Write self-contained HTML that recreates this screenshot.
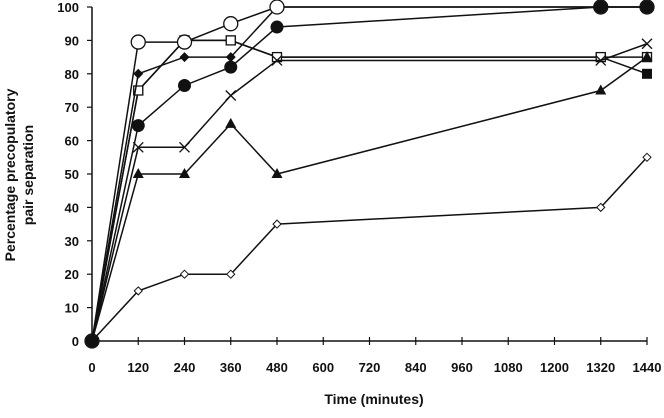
<!DOCTYPE html>
<html><head><meta charset="utf-8"><style>
body{margin:0;background:#fff;}
svg text{font-family:"Liberation Sans",sans-serif;font-weight:bold;fill:#111;}
</style></head><body>
<svg width="664" height="413" viewBox="0 0 664 413" id="chart">
<g id="axes"></g><g id="series"></g>
<text x="374" y="404" font-size="14" text-anchor="middle">Time (minutes)</text>
<text transform="translate(15,175) rotate(-90)" font-size="14" text-anchor="middle"><tspan x="0" dy="0">Percentage precopulatory</tspan><tspan x="0" dy="18">pair  separation</tspan></text>
</svg>
<script>
const times=[0,120,240,360,480,1320,1440];
const xTicks=[0,120,240,360,480,600,720,840,960,1080,1200,1320,1440];
const yTicks=[0,10,20,30,40,50,60,70,80,90,100];
const openCircle=[0,89.5,89.5,95,100,100,100];
const filledCircle=[0,64.5,76.5,82,94,100,100];
const filledSquare=[0,75,90,90,85,85,80];
const filledDiamond=[0,80,85,85,100,100,100];
const openSquare=[0,75,90,90,85,85,85];
const cross=[0,58,58,73.5,84,84,89];
const triangle=[0,50,50,65,50,75,85];
const openDiamond=[0,15,20,20,35,40,55];
const NS="http://www.w3.org/2000/svg";
const X=v=>92+v*555/1440, Y=v=>341-v*3.34;
function mk(tag,attrs,parent){const e=document.createElementNS(NS,tag);for(const k in attrs)e.setAttribute(k,attrs[k]);parent.appendChild(e);return e;}
const ax=document.getElementById('axes'), sg=document.getElementById('series');
let l=mk('line',{x1:X(0),y1:Y(0),x2:X(1440),y2:Y(0),stroke:'#111','stroke-width':1.5},ax);


l=mk('line',{x1:X(0),y1:Y(0),x2:X(0),y2:Y(100),stroke:'#111','stroke-width':1.5},ax);


xTicks.forEach(t=>{
 mk('line',{x1:X(t),y1:Y(0)-4,x2:X(t),y2:Y(0)+4,stroke:'#111','stroke-width':1.2},ax);
 const tx=mk('text',{x:X(t),y:372,'font-size':13,'text-anchor':'middle'},ax);tx.textContent=t;
 
 
});
yTicks.forEach(t=>{
 mk('line',{x1:X(0)-5,y1:Y(t),x2:X(0),y2:Y(t),stroke:'#111','stroke-width':1.2},ax);
 const tx=mk('text',{x:79,y:Y(t)+5,'font-size':13,'text-anchor':'end'},ax);tx.textContent=t;
 
 
});
function marker(g,type,x,y){
 if(type==='ocircle')mk('circle',{cx:x,cy:y,r:7,fill:'#fff',stroke:'#111','stroke-width':1.3},g);
 else if(type==='fcircle')mk('circle',{cx:x,cy:y,r:6.5,fill:'#111'},g);
 else if(type==='fsquare')mk('rect',{x:x-5,y:y-5,width:10,height:10,fill:'#111'},g);
 else if(type==='osquare')mk('rect',{x:x-4.5,y:y-4.5,width:9,height:9,fill:'#fff',stroke:'#111','stroke-width':1.3},g);
 else if(type==='fdiamond')mk('polygon',{points:`${x},${y-5} ${x+5},${y} ${x},${y+5} ${x-5},${y}`,fill:'#111'},g);
 else if(type==='odiamond')mk('polygon',{points:`${x},${y-4} ${x+4},${y} ${x},${y+4} ${x-4},${y}`,fill:'#fff',stroke:'#111','stroke-width':1},g);
 else if(type==='tri')mk('polygon',{points:`${x},${y-6} ${x+5.5},${y+4} ${x-5.5},${y+4}`,fill:'#111'},g);
 else if(type==='cross'){mk('line',{x1:x-5,y1:y-5,x2:x+5,y2:y+5,stroke:'#111','stroke-width':1.3},g);mk('line',{x1:x-5,y1:y+5,x2:x+5,y2:y-5,stroke:'#111','stroke-width':1.3},g);}
}
const series=[['open-diamond',openDiamond,'odiamond'],['filled-square',filledSquare,'fsquare'],['open-square',openSquare,'osquare'],['cross',cross,'cross'],['triangle',triangle,'tri'],['filled-diamond',filledDiamond,'fdiamond'],['open-circle',openCircle,'ocircle'],['filled-circle',filledCircle,'fcircle']];
series.forEach(([name,vals,type])=>{
 const g=mk('g',{},sg);
 
 
 const pl=mk('polyline',{points:vals.map((v,i)=>X(times[i])+','+Y(v)).join(' '),fill:'none',stroke:'#111','stroke-width':1.5},g);
 
 
 vals.forEach((v,i)=>marker(g,type,X(times[i]),Y(v)));
});
</script>
</body></html>
